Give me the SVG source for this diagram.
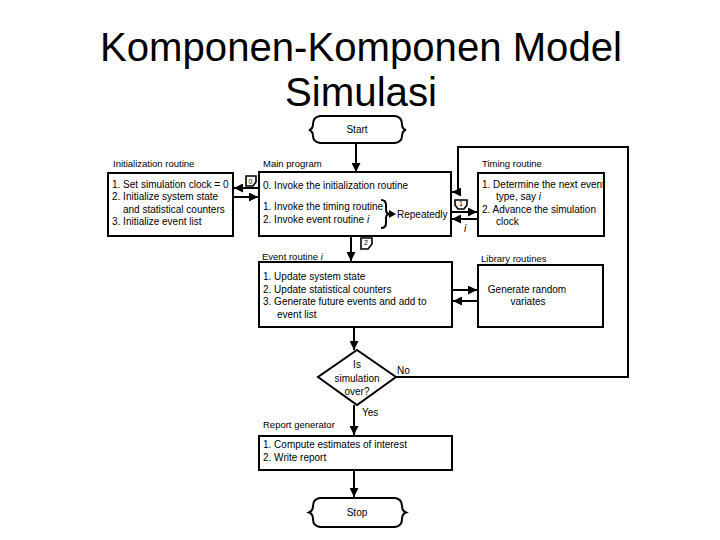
<svg xmlns="http://www.w3.org/2000/svg" width="720" height="540" viewBox="0 0 720 540">
<defs>
<style>
.t{font-family:"Liberation Sans",Arial,sans-serif;fill:#000}
.title{font-size:40px}
.b{font-size:10px}
.l{font-size:9.5px}
.box{fill:#fff;stroke:#000;stroke-width:2}
.c{fill:none;stroke:#000;stroke-width:2}
.tag{fill:#fff;stroke:#000;stroke-width:1.6}
.it{font-style:italic}
</style>
<marker id="ah" viewBox="0 0 10 10" refX="10" refY="5" markerWidth="9" markerHeight="9" markerUnits="userSpaceOnUse" orient="auto"><path d="M0,0 L10,5 L0,10 z" fill="#000"/></marker>
</defs>
<rect width="720" height="540" fill="#fff"/>

<g id="title">
<text class="t title" x="361" y="61" text-anchor="middle" textLength="522" lengthAdjust="spacingAndGlyphs">Komponen-Komponen Model</text>
<text class="t title" x="361" y="106" text-anchor="middle" textLength="152" lengthAdjust="spacingAndGlyphs">Simulasi</text>
</g>

<g id="connectors">
<path class="c" d="M356,143 V172" marker-end="url(#ah)"/>
<path class="c" d="M259,188 H234" marker-end="url(#ah)"/>
<path class="c" d="M233,197 H258" marker-end="url(#ah)"/>
<path class="c" d="M396,377 H628 V147 H458 V192 H452" marker-end="url(#ah)"/>
<path class="c" d="M451,212 H477" marker-end="url(#ah)"/>
<path class="c" d="M478,219 H452" marker-end="url(#ah)"/>
<path class="c" d="M351,236 V261" marker-end="url(#ah)"/>
<path class="c" d="M452,290 H477" marker-end="url(#ah)"/>
<path class="c" d="M478,301 H453" marker-end="url(#ah)"/>
<path class="c" d="M354,327 V350" marker-end="url(#ah)"/>
<path class="c" d="M354,405 V435" marker-end="url(#ah)"/>
<path class="c" d="M354,470 V497" marker-end="url(#ah)"/>
<path class="tag" d="M246,176 h10 v6 l-3,4 h-7 z"/>
<text class="t" x="250.5" y="184" font-size="7" text-anchor="middle">0</text>
<path class="tag" d="M455,200 h12 v5 l-3,4 h-6 l-3,-4 z"/>
<text class="t" x="461" y="206" font-size="7" text-anchor="middle">1</text>
<path class="tag" d="M361,238 h11 v6 l-4,5 h-7 z"/>
<text class="t" x="366" y="245" font-size="7" text-anchor="middle">2</text>
<text class="t b it" x="464" y="232">i</text>
<text class="t b" x="397" y="374">No</text>
<text class="t b" x="362" y="416">Yes</text>
</g>

<g id="start">
<path class="box" d="M320,116 H395 Q402,117 402,124 Q402,129 406,130 Q402,131 402,136 Q402,142 395,143 H320 Q313,142 313,136 Q313,131 309,130 Q313,129 313,124 Q313,117 320,116 Z"/>
<text class="t b" x="357" y="133" text-anchor="middle">Start</text>
</g>

<g id="init">
<text class="t l" x="113" y="167">Initialization routine</text>
<rect class="box" x="108" y="173" width="125" height="63"/>
<text class="t b" x="112" y="187.5">1. Set simulation clock = 0</text>
<text class="t b" x="112" y="200">2. Initialize system state</text>
<text class="t b" x="123" y="212.5">and statistical counters</text>
<text class="t b" x="112" y="225">3. Initialize event list</text>
</g>

<g id="main">
<text class="t l" x="263" y="167">Main program</text>
<rect class="box" x="259" y="172" width="192" height="64"/>
<text class="t b" x="263" y="188.5">0. Invoke the initialization routine</text>
<text class="t b" x="263" y="210">1. Invoke the timing routine</text>
<text class="t b" x="263" y="223">2. Invoke event routine <tspan class="it">i</tspan></text>
<path class="c" d="M381,200 Q386,200 386,205 V210 Q386,214 390,214 Q386,214 386,218 V223 Q386,228 381,228"/>
<path d="M389,210 L396,214 L389,218 z" fill="#000"/>
<text class="t b" x="397" y="218">Repeatedly</text>
</g>

<g id="timing">
<text class="t l" x="482" y="167">Timing routine</text>
<rect class="box" x="478" y="173" width="126" height="63"/>
<text class="t b" x="482" y="187.5">1. Determine the next event</text>
<text class="t b" x="496" y="200">type, say <tspan class="it">i</tspan></text>
<text class="t b" x="482" y="212.5">2. Advance the simulation</text>
<text class="t b" x="496" y="225">clock</text>
</g>

<g id="event">
<text class="t l" x="262" y="260">Event routine <tspan class="it">i</tspan></text>
<rect class="box" x="259" y="262" width="193" height="65"/>
<text class="t b" x="263" y="279.5">1. Update system state</text>
<text class="t b" x="263" y="292.5">2. Update statistical counters</text>
<text class="t b" x="263" y="304.5">3. Generate future events and add to</text>
<text class="t b" x="277" y="317.5">event list</text>
</g>

<g id="library">
<text class="t l" x="481" y="262">Library routines</text>
<rect class="box" x="478" y="265" width="125" height="62"/>
<text class="t b" x="527" y="293" text-anchor="middle">Generate random</text>
<text class="t b" x="528" y="305" text-anchor="middle">variates</text>
</g>

<g id="decision">
<path class="box" d="M357,350 L396,377 L357,405 L318,377 Z"/>
<text class="t b" x="357" y="367.5" text-anchor="middle">Is</text>
<text class="t b" x="357" y="381.5" text-anchor="middle">simulation</text>
<text class="t b" x="357" y="395" text-anchor="middle">over?</text>
</g>

<g id="report">
<text class="t l" x="263" y="428">Report generator</text>
<rect class="box" x="259" y="436" width="193" height="34"/>
<text class="t b" x="263" y="447.5">1. Compute estimates of interest</text>
<text class="t b" x="263" y="460.5">2. Write report</text>
</g>

<g id="stop">
<path class="box" d="M320,498 H395 Q402,499 402,506 Q402,511 406,512.5 Q402,514 402,519 Q402,526 395,527 H320 Q313,526 313,519 Q313,514 309,512.5 Q313,511 313,506 Q313,499 320,498 Z"/>
<text class="t b" x="357" y="516" text-anchor="middle">Stop</text>
</g>
</svg>
